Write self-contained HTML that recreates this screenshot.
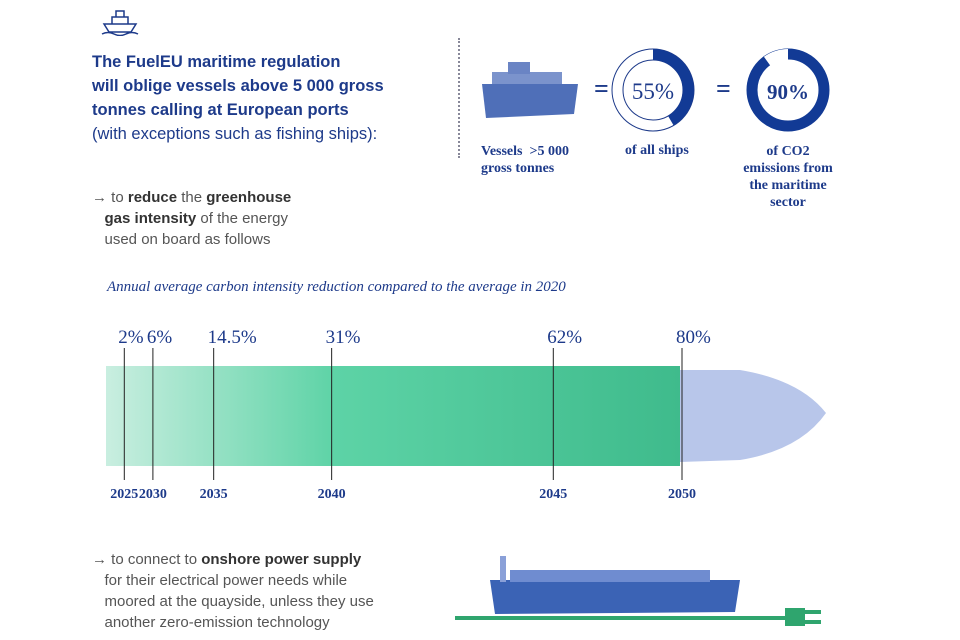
<!DOCTYPE html>
<html><head><meta charset="utf-8"><style>
body{margin:0;width:960px;height:640px;background:#fff;overflow:hidden;position:relative;font-family:"Liberation Sans",sans-serif}
.t{position:absolute;margin:0}
.h{left:92px;top:50px;font-size:16.5px;line-height:24px;color:#1d3a8a;font-weight:bold}
.h span{font-weight:normal}
.g{color:#555;font-size:15px;line-height:21px}
.g b{color:#333}
.serif{font-family:"Liberation Serif",serif;color:#1d3a8a}
</style></head><body>
<svg style="position:absolute;left:100px;top:4px" width="40" height="32" viewBox="0 0 40 32"><path d="M4 20 L36 20 L31 28 L9 28 Z M12 20 L12 13 L28 13 L28 20 M16 13 L16 7 L24 7 L24 13 M2 30 Q8 27 14 30 Q20 33 26 30 Q32 27 38 30" fill="none" stroke="#1d3a8a" stroke-width="1.5"/></svg>
<div class="t h">The FuelEU maritime regulation<br>will oblige vessels above 5 000 gross<br>tonnes calling at European ports<br><span>(with exceptions such as fishing ships):</span></div>
<div class="t g" style="left:92px;top:187px">→ to <b>reduce</b> the <b>greenhouse</b><br>&nbsp;&nbsp;&nbsp;<b>gas intensity</b> of the energy<br>&nbsp;&nbsp;&nbsp;used on board as follows</div>
<div style="position:absolute;left:458px;top:38px;height:120px;border-left:2px dotted #889"></div>
<svg style="position:absolute;left:480px;top:58px" width="100" height="64"><path d="M2 26 L98 26 L94 56 L6 60 Z" fill="#4f6fb8"/><rect x="12" y="14" width="70" height="12" fill="#7b93cc"/><rect x="28" y="4" width="22" height="12" fill="#6a84c4"/></svg>
<div class="t serif" style="left:594px;top:74px;font-size:26px;font-weight:bold">=</div>
<div class="t serif" style="left:716px;top:74px;font-size:26px;font-weight:bold">=</div>
<svg style="position:absolute;left:600px;top:40px" width="240" height="100">
<g><circle cx="53" cy="50" r="41" fill="none" stroke="#1d3a8a" stroke-width="1"/><circle cx="53" cy="50" r="30" fill="none" stroke="#1d3a8a" stroke-width="1"/>
<path d="M53 9 A41 41 0 0 1 73.6 85.4 L68 75.9 A30 30 0 0 0 53 20 Z" fill="#123a95"/>
<text x="53" y="59" text-anchor="middle" font-family="Liberation Serif" font-size="23" fill="#1d3a8a">55%</text></g>
<g><circle cx="188" cy="50" r="36" fill="none" stroke="#123a95" stroke-width="11"/><path d="M188 9 A41 41 0 0 0 163.9 16.8 L170.4 25.7 A30 30 0 0 1 188 20Z" fill="#fff"/>
<text x="188" y="59" text-anchor="middle" font-family="Liberation Serif" font-size="21" font-weight="bold" fill="#1d3a8a">90%</text></g>
</svg>
<div class="t serif" style="left:481px;top:143px;font-size:14px;font-weight:bold;line-height:17px">Vessels &nbsp;&gt;5 000<br>gross tonnes</div>
<div class="t serif" style="left:625px;top:143px;font-size:14px;font-weight:bold">of all ships</div>
<div class="t serif" style="left:728px;top:143px;width:120px;text-align:center;font-size:14px;font-weight:bold;line-height:17px">of CO2<br>emissions from<br>the maritime<br>sector</div>
<div class="t serif" style="left:107px;top:279px;font-size:15px;font-style:italic">Annual average carbon intensity reduction compared to the average in 2020</div>
<svg id="chart" style="position:absolute;left:0;top:0" width="960" height="640">
<defs><linearGradient id="gr" x1="0" x2="1"><stop offset="0" stop-color="#c9eee0"/><stop offset="0.4" stop-color="#5dd3a6"/><stop offset="1" stop-color="#3fbb8c"/></linearGradient></defs>
<path d="M680 370 L740 370 Q800 380 826 413 Q800 450 740 460 L680 462 Z" fill="#b8c6ea"/>
<rect x="106" y="366" width="574" height="100" fill="url(#gr)"/>
</svg>
<div class="t g" style="left:92px;top:549px">→ to connect to <b>onshore power supply</b><br>&nbsp;&nbsp;&nbsp;for their electrical power needs while<br>&nbsp;&nbsp;&nbsp;moored at the quayside, unless they use<br>&nbsp;&nbsp;&nbsp;another zero-emission technology</div>
<svg style="position:absolute;left:450px;top:550px" width="400" height="90">
<path d="M40 30 L290 30 L285 62 L45 64 Z" fill="#3b63b5"/><rect x="60" y="20" width="200" height="12" fill="#6f8cd0"/><rect x="50" y="6" width="6" height="26" fill="#8aa0d8"/>
<rect x="5" y="66" width="335" height="4" fill="#2fa56e"/><rect x="335" y="58" width="20" height="18" fill="#2fa56e"/><rect x="355" y="60" width="16" height="4" fill="#2fa56e"/><rect x="355" y="70" width="16" height="4" fill="#2fa56e"/></svg>
<script>
const years=["2025","2030","2035","2040","2045","2050"];
const reductions=[2,6,14.5,31,62,80];
const pctLabels=["2%","6%","14.5%","31%","62%","80%"];
const svg=document.getElementById('chart');
const NS='http://www.w3.org/2000/svg';
function xs(v){return 110+v*7.15;}
reductions.forEach((v,i)=>{
 const x=xs(v);
 const l=document.createElementNS(NS,'line');
 l.setAttribute('x1',x);l.setAttribute('x2',x);l.setAttribute('y1',348);l.setAttribute('y2',480);
 l.setAttribute('stroke','#222');l.setAttribute('stroke-width','1');
 
 
 svg.appendChild(l);
 const t=document.createElementNS(NS,'text');
 t.setAttribute('x',x-6);t.setAttribute('y',343);t.setAttribute('font-family','Liberation Serif');t.setAttribute('font-size','19');t.setAttribute('fill','#1d3a8a');
 t.textContent=pctLabels[i];
 
 
 svg.appendChild(t);
 const y=document.createElementNS(NS,'text');
 y.setAttribute('x',x);y.setAttribute('y',498);y.setAttribute('text-anchor','middle');y.setAttribute('font-family','Liberation Serif');y.setAttribute('font-size','14');y.setAttribute('font-weight','bold');y.setAttribute('fill','#1d3a8a');
 y.textContent=years[i];
 
 
 svg.appendChild(y);
});
</script>
</body></html>
